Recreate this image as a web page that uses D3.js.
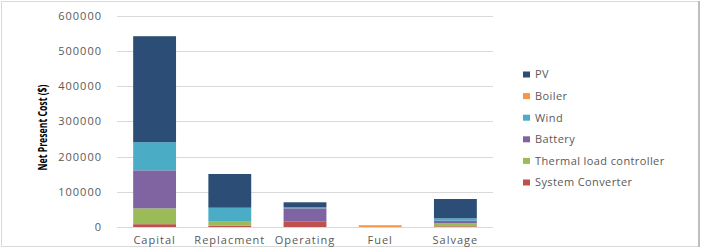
<!DOCTYPE html>
<html><head><meta charset="utf-8">
<script src="https://cdn.jsdelivr.net/npm/d3@7"></script>
<style>
html,body{margin:0;padding:0;background:#fff;}
svg{display:block;}
text{font-family:"Open Sans",sans-serif;}
</style></head>
<body>
<svg id="chart" width="705" height="249"></svg>
<script>
const categories = ["Capital","Replacment","Operating","Fuel","Salvage"];
const seriesNames = ["System Converter","Thermal load controller","Battery","Wind","Boiler","PV"];
const systemConverter = [8000, 3700, 15000, 0, 2000];
const thermalLoad     = [45000, 11400, 0, 0, 8500];
const battery         = [108000, 0, 38100, 0, 7400];
const wind            = [80000, 39700, 3700, 0, 6800];
const boiler          = [0, 0, 0, 5000, 0];
const pv              = [301000, 95800, 13400, 0, 54800];
const yTicks = [0,100000,200000,300000,400000,500000,600000];
const colors = {"PV":"#2C4D75","Boiler":"#F79646","Wind":"#4BACC6","Battery":"#8064A2","Thermal load controller":"#9BBB59","System Converter":"#C0504D"};
const legendOrder = ["PV","Boiler","Wind","Battery","Thermal load controller","System Converter"];

(function(){
const seriesValues = {"System Converter":systemConverter,"Thermal load controller":thermalLoad,"Battery":battery,"Wind":wind,"Boiler":boiler,"PV":pv};
const table = categories.map((c,i)=>{const o={category:c}; seriesNames.forEach(s=>o[s]=seriesValues[s][i]); return o;});
const stack = d3.stack().keys(seriesNames)(table);

const svg = d3.select("#chart");
const pLeft=117, pRight=493, pTop=15.8, pBottom=227;
const x = d3.scaleBand().domain(categories).range([pLeft,pRight]).paddingInner(0.43).paddingOuter(0.215);
const y = d3.scaleLinear().domain([0,600000]).range([pBottom,pTop]);

// border
svg.append("rect").attr("x",1.5).attr("y",1.5).attr("width",697).attr("height",245)
  .attr("fill","none").attr("stroke","#d9d9d9").attr("stroke-width",1);
svg.append("line").attr("x1",699).attr("x2",699).attr("y1",1).attr("y2",247).attr("stroke","#bfbfbf").attr("stroke-width",2);

// gridlines
svg.append("g").selectAll("line").data(yTicks).join("line")
  .attr("x1",pLeft).attr("x2",pRight)
  .attr("y1",d=>Math.round(y(d))+0.5).attr("y2",d=>Math.round(y(d))+0.5)
  .attr("stroke","#d9d9d9").attr("stroke-width",1);

// y axis labels
const yAxis = d3.axisLeft(y).tickValues(yTicks).tickFormat(d3.format("d")).tickSize(0).tickPadding(15);
const ya = svg.append("g").attr("transform",`translate(${pLeft},0)`).call(yAxis);
ya.select(".domain").remove();
ya.selectAll("text").attr("font-size","11px").attr("fill","#595959").attr("letter-spacing","1px")
  .attr("font-family","'Open Sans',sans-serif");

// bars
svg.append("g").selectAll("g").data(stack).join("g")
  .attr("fill",d=>colors[d.key])
  .selectAll("rect").data(d=>d).join("rect")
  .attr("x",d=>x(d.data.category))
  .attr("width",x.bandwidth())
  .attr("y",d=>y(d[1]))
  .attr("height",d=>Math.max(0,y(d[0])-y(d[1])));

// x axis labels
const xAxis = d3.axisBottom(x).tickSize(0).tickPadding(9);
const xa = svg.append("g").attr("transform",`translate(0,${pBottom})`).call(xAxis);
xa.select(".domain").remove();
xa.selectAll("text").attr("font-size","11px").attr("fill","#595959").attr("letter-spacing","1px")
  .attr("font-family","'Open Sans',sans-serif");

// y title
svg.append("text").attr("transform","translate(47,127.5) rotate(-90)")
  .attr("text-anchor","middle").attr("font-size","13px").attr("font-weight","bold").attr("fill","#000")
  .attr("textLength",86).attr("lengthAdjust","spacingAndGlyphs")
  .text("Net Present Cost ($)");

// legend
const lg = svg.append("g").selectAll("g").data(legendOrder).join("g")
  .attr("transform",(d,i)=>`translate(523,${74.5+i*21.6})`);
lg.append("rect").attr("x",0).attr("y",-3).attr("width",7).attr("height",6).attr("fill",d=>colors[d]);
lg.append("text").attr("x",12).attr("y",0).attr("dy","0.36em").attr("font-size","11px")
  .attr("fill","#595959").attr("letter-spacing","0.4px").text(d=>d);
})();
</script>
</body></html>
